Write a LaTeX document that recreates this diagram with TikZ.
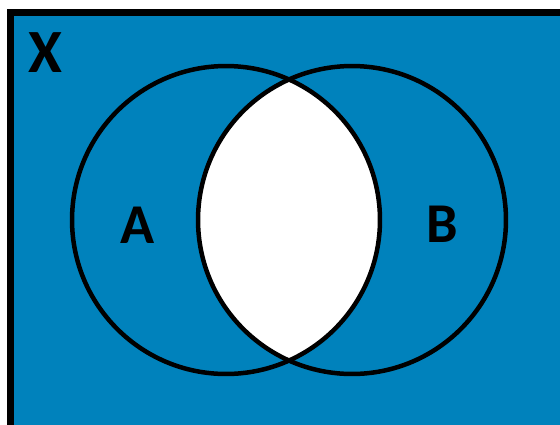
\documentclass[tikz,border=0pt]{standalone}
\usepackage{fontspec}
\newfontfamily\vennfont{Carlito}
\usepackage{tikz}
\usetikzlibrary{positioning}
\definecolor{vennblue}{RGB}{0,130,188}

\tikzset{
  setline/.style={line width=0.09cm, draw=black},
  setlabel/.style={inner sep=0pt, font=\vennfont\bfseries\fontsize{32}{36}\selectfont}
}

\begin{document}
\begin{tikzpicture}[x=0.02cm, y=0.02cm]
    \useasboundingbox (0,0) rectangle (560,424);
    \clip (0,0) rectangle (560,424);

    % Universe
    \fill[vennblue] (10.5,-10) rectangle (580,411.5);
    \draw[line width=0.14cm] (580,411.5) -- (10.5,411.5) -- (10.5,-10);

    % Centres of the two sets
    \coordinate (cA) at (226,204);
    \coordinate (cB) at (352,204);

    % Intersection
    \begin{scope}
        \clip (cA) circle[radius=3.08cm];
        \fill[white] (cB) circle[radius=3.08cm];
    \end{scope}

    % Sets
    \draw[setline] (cA) circle[radius=3.08cm];
    \draw[setline] (cB) circle[radius=3.08cm];

    % Labels
    \node[setlabel, font=\vennfont\bfseries\fontsize{35}{40}\selectfont] (labX) at (45,371.5) {X};
    \node[setlabel] (labA) at (138,199) {A};
    \node[setlabel] (labB) at (442,199.5) {B};
\end{tikzpicture}
\end{document}
